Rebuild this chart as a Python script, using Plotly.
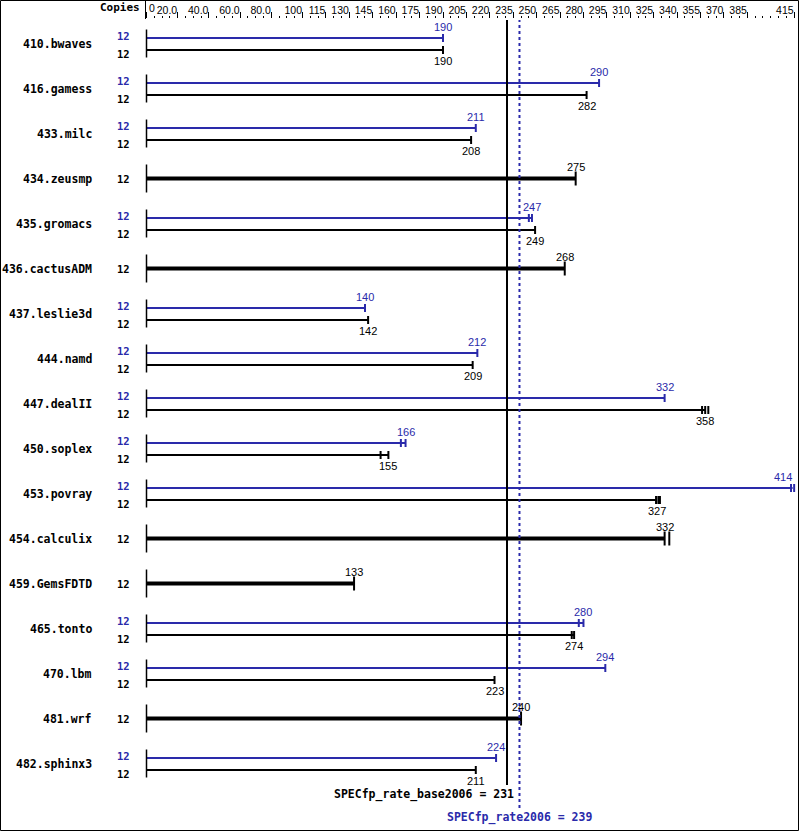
import plotly.graph_objects as go

benchmarks = ["410.bwaves", "416.gamess", "433.milc", "434.zeusmp", "435.gromacs",
              "436.cactusADM", "437.leslie3d", "444.namd", "447.dealII", "450.soplex",
              "453.povray", "454.calculix", "459.GemsFDTD", "465.tonto", "470.lbm",
              "481.wrf", "482.sphinx3"]
base_copies = [12, 12, 12, 12, 12, 12, 12, 12, 12, 12, 12, 12, 12, 12, 12, 12, 12]
peak_copies = [12, 12, 12, None, 12, None, 12, 12, 12, 12, 12, None, None, 12, 12, None, 12]
base_ratio = [190, 282, 208, 275, 249, 268, 142, 209, 358, 155, 327, 332, 133, 274, 223, 240, 211]
peak_ratio = [190, 290, 211, None, 247, None, 140, 212, 332, 166, 414, None, None, 280, 294, None, 224]
base_runs = [[190], [282], [208], [275], [249], [268], [142], [209], [356, 358, 360],
             [150, 155], [326.5, 328, 329], [332, 335], [133], [272.5, 274], [223], [240], [211]]
peak_runs = [[190], [290], [211], None, [245, 247], None, [140], [212], [332],
             [163, 166], [413, 415], None, None, [277, 280], [294], None, [224]]
tick_vals = [0, 20, 40, 60, 80, 100, 115, 130, 145, 160, 175, 190, 205, 220, 235, 250,
             265, 280, 295, 310, 325, 340, 355, 370, 385, 415]
tick_text = ["0", "20.0", "40.0", "60.0", "80.0", "100", "115", "130", "145", "160", "175",
             "190", "205", "220", "235", "250", "265", "280", "295", "310", "325", "340",
             "355", "370", "385", "415"]
base_mean = 231
peak_mean = 239
base_label = "SPECfp_rate_base2006"
peak_label = "SPECfp_rate2006"

BLUE = "#2a2aaa"
BLACK = "#000000"
W, H = 799, 831
ML, MR, MT, MB = 146, 0, 19, 0
PW, PH = W - ML - MR, H - MT - MB
SCALE = 1.5606
X0 = -0.5 / SCALE
X1 = X0 + PW / SCALE
ROW = 45.0
Y_TOP = (19 - 43.5) / ROW
Y_BOT = Y_TOP + PH / ROW
PEAK_OFF = -5.5 / ROW
BASE_OFF = 6.5 / ROW
MONO = "DejaVu Sans Mono"
SANS = "Liberation Sans"
EDGE = 405  # values beyond this get their label pulled left of the bar end


def px_x(px):
    return (px - ML) / PW


def px_y(py):
    return (H - MB - py) / PH


def val_anchor(v):
    return ("right", 1) if v > EDGE else ("center", 0)


fig = go.Figure()

# bars
pk_x, pk_y, bs_x, bs_y, so_x, so_y = [], [], [], [], [], []
pcap_x, pcap_y, bcap_x, bcap_y, scap_x, scap_y = [], [], [], [], [], []
for i, name in enumerate(benchmarks):
    if peak_ratio[i] is not None:
        yp = i + PEAK_OFF
        yb = i + BASE_OFF
        pk_x += [0, peak_ratio[i], None]
        pk_y += [yp, yp, None]
        bs_x += [0, base_ratio[i], None]
        bs_y += [yb, yb, None]
        for r in peak_runs[i]:
            pcap_x.append(r)
            pcap_y.append(yp)
        for r in base_runs[i]:
            bcap_x.append(r)
            bcap_y.append(yb)
    else:
        so_x += [0, base_ratio[i], None]
        so_y += [i, i, None]
        for r in base_runs[i]:
            scap_x.append(r)
            scap_y.append(i)

fig.add_trace(go.Scatter(x=pk_x, y=pk_y, mode="lines", line=dict(color=BLUE, width=2),
                         cliponaxis=False, hoverinfo="skip"))
fig.add_trace(go.Scatter(x=bs_x, y=bs_y, mode="lines", line=dict(color=BLACK, width=2),
                         cliponaxis=False, hoverinfo="skip"))
fig.add_trace(go.Scatter(x=so_x, y=so_y, mode="lines", line=dict(color=BLACK, width=4),
                         cliponaxis=False, hoverinfo="skip"))
# left caps
fig.add_trace(go.Scatter(x=[0] * len(benchmarks), y=list(range(len(benchmarks))), mode="markers",
                         marker=dict(symbol="line-ns", size=28 / 1.4,
                                     line=dict(color=BLACK, width=1.5)),
                         cliponaxis=False, hoverinfo="skip"))
fig.add_trace(go.Scatter(x=pcap_x, y=pcap_y, mode="markers",
                         marker=dict(symbol="line-ns", size=8 / 1.4, line=dict(color=BLUE, width=2)),
                         cliponaxis=False, hoverinfo="skip"))
fig.add_trace(go.Scatter(x=bcap_x, y=bcap_y, mode="markers",
                         marker=dict(symbol="line-ns", size=8 / 1.4, line=dict(color=BLACK, width=2)),
                         cliponaxis=False, hoverinfo="skip"))
fig.add_trace(go.Scatter(x=scap_x, y=scap_y, mode="markers",
                         marker=dict(symbol="line-ns", size=14 / 1.4, line=dict(color=BLACK, width=2)),
                         cliponaxis=False, hoverinfo="skip"))

ann = []
for i, name in enumerate(benchmarks):
    ann.append(dict(xref="paper", yref="y", x=px_x(94), y=i, xanchor="right", yanchor="middle",
                    text="<b>" + name + "</b>", showarrow=False,
                    font=dict(family=MONO, size=11.5, color=BLACK)))
    if peak_ratio[i] is not None:
        yp = i + PEAK_OFF
        yb = i + BASE_OFF
        ann.append(dict(xref="paper", yref="y", x=px_x(132), y=yp, yshift=2.5, xanchor="right",
                        yanchor="middle", text="<b>%d</b>" % peak_copies[i], showarrow=False,
                        font=dict(family=MONO, size=10.5, color=BLUE)))
        ann.append(dict(xref="paper", yref="y", x=px_x(132), y=yb, yshift=-3.5, xanchor="right",
                        yanchor="middle", text="<b>%d</b>" % base_copies[i], showarrow=False,
                        font=dict(family=MONO, size=10.5, color=BLACK)))
        xa, xs = val_anchor(peak_ratio[i])
        ann.append(dict(xref="x", yref="y", x=peak_ratio[i], y=yp, yshift=11, xanchor=xa, xshift=xs,
                        yanchor="middle", text="%d" % peak_ratio[i], showarrow=False,
                        font=dict(family=SANS, size=11, color=BLUE)))
        xa, xs = val_anchor(base_ratio[i])
        ann.append(dict(xref="x", yref="y", x=base_ratio[i], y=yb, yshift=-11, xanchor=xa, xshift=xs,
                        yanchor="middle", text="%d" % base_ratio[i], showarrow=False,
                        font=dict(family=SANS, size=11, color=BLACK)))
    else:
        ann.append(dict(xref="paper", yref="y", x=px_x(132), y=i, xanchor="right",
                        yanchor="middle", text="<b>%d</b>" % base_copies[i], showarrow=False,
                        font=dict(family=MONO, size=10.5, color=BLACK)))
        xa, xs = val_anchor(base_ratio[i])
        ann.append(dict(xref="x", yref="y", x=base_ratio[i], y=i, yshift=12, xanchor=xa, xshift=xs,
                        yanchor="middle", text="%d" % base_ratio[i], showarrow=False,
                        font=dict(family=SANS, size=11, color=BLACK)))

# header
ann.append(dict(xref="paper", yref="paper", x=px_x(142), y=px_y(8), xanchor="right",
                yanchor="middle", text="<b>Copies</b>", showarrow=False,
                font=dict(family=MONO, size=11, color=BLACK)))
ann.append(dict(xref="x", yref="paper", x=0, y=px_y(8.5), xanchor="left", xshift=0,
                yanchor="middle", text=tick_text[0], showarrow=False,
                font=dict(family=SANS, size=10.5, color=BLACK)))
# summary
ann.append(dict(xref="x", yref="paper", x=base_mean, xshift=9, y=px_y(794), xanchor="right",
                yanchor="middle", text="<b>%s = %d</b>" % (base_label, base_mean), showarrow=False,
                font=dict(family=MONO, size=11.5, color=BLACK)))
ann.append(dict(xref="x", yref="paper", x=peak_mean, y=px_y(817), xanchor="center",
                yanchor="middle", text="<b>%s = %d</b>" % (peak_label, peak_mean), showarrow=False,
                font=dict(family=MONO, size=11.5, color=BLUE)))

shapes = [
    dict(type="line", xref="x", yref="paper", x0=base_mean, x1=base_mean,
         y0=px_y(785), y1=px_y(20), line=dict(color=BLACK, width=2)),
    dict(type="line", xref="x", yref="paper", x0=peak_mean, x1=peak_mean,
         y0=px_y(808), y1=px_y(20), line=dict(color=BLUE, width=2, dash="dot")),
    dict(type="line", xref="paper", yref="paper", x0=px_x(145.5), x1=px_x(145.5),
         y0=px_y(19), y1=px_y(0), line=dict(color=BLACK, width=1)),
    dict(type="rect", xref="paper", yref="paper", x0=px_x(0.5), x1=px_x(798.5),
         y0=px_y(830.5), y1=px_y(0.5), line=dict(color=BLACK, width=1)),
]

fig.update_layout(
    width=W, height=H, margin=dict(l=ML, r=MR, t=MT, b=MB, pad=0, autoexpand=False),
    paper_bgcolor="white", plot_bgcolor="white", showlegend=False,
    annotations=ann, shapes=shapes,
    xaxis=dict(range=[X0, X1], side="top", showgrid=False, zeroline=False, showline=False,
               tickmode="array", tickvals=tick_vals, ticktext=[""] + tick_text[1:],
               ticks="outside", ticklen=6, tickwidth=1, tickcolor=BLACK,
               ticklabelposition="outside left", tickangle=0, automargin=False,
               tickfont=dict(family=SANS, size=10.5, color=BLACK),
               minor=dict(tickmode="linear", tick0=0, dtick=5, ticks="outside", ticklen=2,
                          tickwidth=1, tickcolor=BLACK, showgrid=False),
               fixedrange=True),
    yaxis=dict(range=[Y_BOT, Y_TOP], visible=False, fixedrange=True, automargin=False),
)

fig.write_html("out.html", config={"displayModeBar": False},
               post_script="document.body.style.margin='0';document.body.style.overflow='hidden';")
